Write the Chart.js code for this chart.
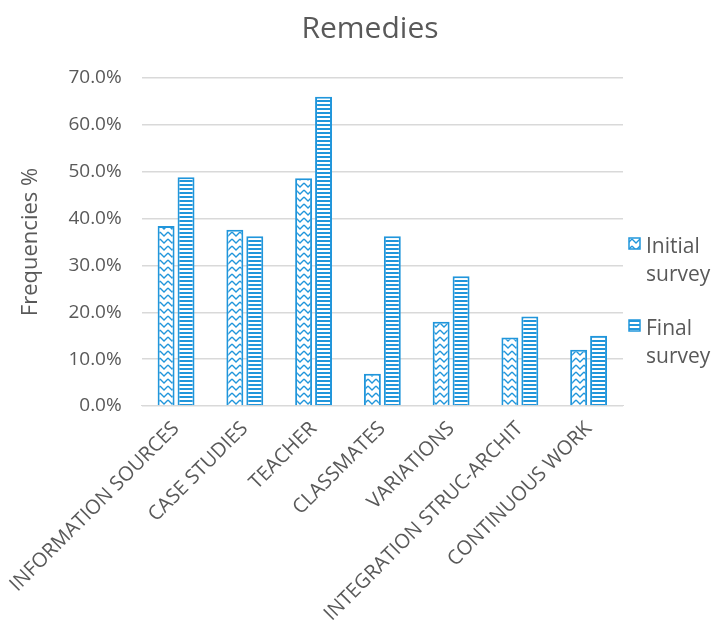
<!DOCTYPE html>
<html>
<head>
<meta charset="utf-8">
<script src="https://cdn.jsdelivr.net/npm/chart.js@4.4.0/dist/chart.umd.min.js"></script>
<style>
  html, body { margin: 0; padding: 0; background: #fff; }
  #wrap { width: 711px; height: 631px; }
</style>
</head>
<body>
<div id="wrap"><canvas id="remediesChart"></canvas></div>
<script>
const chartTitle = 'Remedies';
const categories = ['INFORMATION SOURCES', 'CASE STUDIES', 'TEACHER', 'CLASSMATES',
    'VARIATIONS', 'INTEGRATION STRUC-ARCHIT', 'CONTINUOUS WORK'];
const initialSurvey = [38.4, 37.6, 48.6, 6.9, 18.0, 14.6, 12.0];
const finalSurvey = [48.8, 36.2, 66.0, 36.2, 27.7, 19.1, 15.0];
const seriesNames = [['Initial', 'survey'], ['Final', 'survey']];

const blue = '#2196db';
const textColor = '#595959';
const fontFamily = "'Open Sans', 'Noto Sans', sans-serif";

function zigzagPattern() {
    const c = document.createElement('canvas');
    c.width = 8; c.height = 7;
    const g = c.getContext('2d');
    g.fillStyle = '#fff';
    g.fillRect(0, 0, 8, 7);
    g.strokeStyle = blue;
    g.lineWidth = 1.3;
    g.beginPath();
    g.moveTo(0, 1);
    g.lineTo(4, 5);
    g.lineTo(8, 1);
    g.stroke();
    return g.createPattern(c, 'repeat');
}

function stripePattern() {
    const c = document.createElement('canvas');
    c.width = 4; c.height = 4;
    const g = c.getContext('2d');
    g.fillStyle = '#fff';
    g.fillRect(0, 0, 4, 4);
    g.fillStyle = blue;
    g.fillRect(0, 0, 4, 2);
    return g.createPattern(c, 'repeat');
}

const fills = [zigzagPattern(), stripePattern()];

// title and legend drawn by hand: title sits over the plot, legend names wrap
const extras = {
    id: 'extras',
    afterDraw(chart) {
        const ctx = chart.ctx;
        ctx.save();
        ctx.fillStyle = textColor;
        ctx.font = '30px ' + fontFamily;
        ctx.textAlign = 'center';
        ctx.textBaseline = 'alphabetic';
        ctx.fillText(chartTitle, 370, 38);

        const x = chart.chartArea.right + 6;
        const tops = [238, 320];
        ctx.font = '21px ' + fontFamily;
        ctx.textAlign = 'left';
        tops.forEach((top, i) => {
            ctx.fillStyle = fills[i];
            ctx.fillRect(x, top, 11, 11);
            ctx.strokeStyle = blue;
            ctx.lineWidth = 1.5;
            ctx.strokeRect(x, top, 11, 11);
            ctx.fillStyle = textColor;
            ctx.fillText(seriesNames[i][0], x + 17, top + 15);
            ctx.fillText(seriesNames[i][1], x + 17, top + 43);
        });
        ctx.restore();
    }
};

const ctx = document.getElementById('remediesChart').getContext('2d');
const remediesChart = new Chart(ctx, {
    type: 'bar',
    data: {
        labels: categories,
        datasets: [{
            label: 'Initial survey',
            data: initialSurvey,
            backgroundColor: fills[0],
            borderColor: blue,
            borderWidth: 2,
            categoryPercentage: 0.58,
            barPercentage: 0.85
        }, {
            label: 'Final survey',
            data: finalSurvey,
            backgroundColor: fills[1],
            borderColor: blue,
            borderWidth: 2,
            categoryPercentage: 0.58,
            barPercentage: 0.85
        }]
    },
    options: {
        responsive: true,
        maintainAspectRatio: false,
        animation: false,
        layout: { padding: { top: 78, right: 88, left: 18, bottom: 2 } },
        plugins: {
            legend: { display: false },
            tooltip: { enabled: false },
            title: { display: false }
        },
        scales: {
            x: {
                grid: { display: false },
                border: { color: '#d9d9d9' },
                ticks: {
                    color: textColor,
                    font: { size: 20, family: fontFamily },
                    minRotation: 45,
                    maxRotation: 45,
                    autoSkip: false
                }
            },
            y: {
                min: 0,
                max: 70,
                border: { display: false },
                grid: { color: '#d9d9d9', lineWidth: 1.5, drawTicks: false },
                ticks: {
                    stepSize: 10,
                    color: textColor,
                    padding: 20,
                    font: { size: 19, family: fontFamily },
                    callback: v => v.toFixed(1) + '%'
                },
                title: {
                    display: true,
                    text: 'Frequencies %',
                    color: textColor,
                    font: { size: 22, family: fontFamily },
                    padding: { top: 0, bottom: 4 }
                }
            }
        }
    },
    plugins: [extras]
});
</script>
</body>
</html>
